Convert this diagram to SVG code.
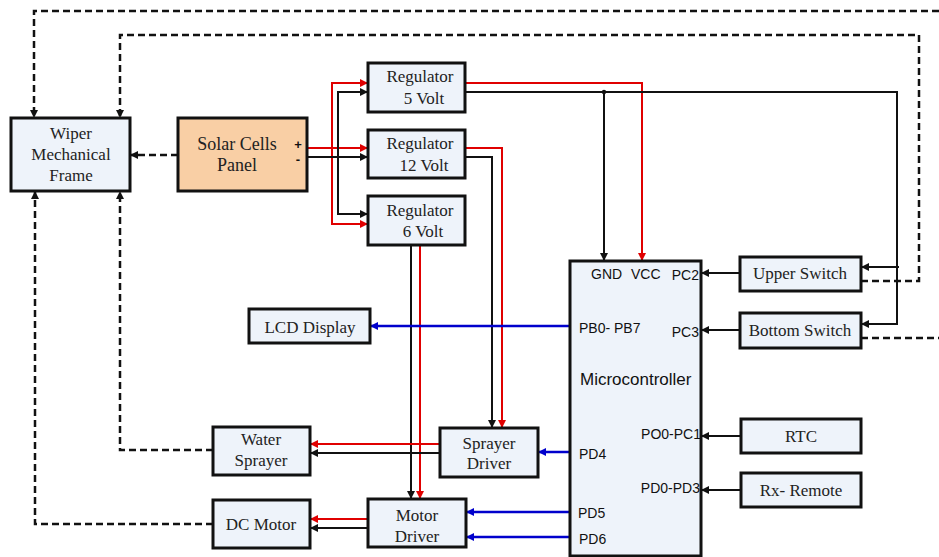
<svg xmlns="http://www.w3.org/2000/svg" width="939" height="557" viewBox="0 0 939 557">
<style>
.box{fill:#eef3fa;stroke:#111;stroke-width:3}
.solar{fill:#f9cfa5;stroke:#111;stroke-width:3}
.t{font-family:"Liberation Serif","Times New Roman",serif;font-size:17px;fill:#222;text-anchor:middle}
.s{font-family:"Liberation Sans",Arial,sans-serif;font-size:14px;fill:#111}
.pm{font-family:"Liberation Sans",Arial,sans-serif;font-size:13px;font-weight:bold;fill:#111;text-anchor:middle}
.k{fill:none;stroke:#111;stroke-width:2}
.r{fill:none;stroke:#e00000;stroke-width:2}
.b{fill:none;stroke:#0000cc;stroke-width:2.5}
.d{fill:none;stroke:#111;stroke-width:2.5;stroke-dasharray:7 4}
</style>
<defs>
<marker id="ak" viewBox="0 0 10 10" refX="10" refY="5" markerWidth="9" markerHeight="8" markerUnits="userSpaceOnUse" orient="auto"><path d="M0,0 L10,5 L0,10 z" fill="#111"/></marker>
<marker id="ar" viewBox="0 0 10 10" refX="10" refY="5" markerWidth="9" markerHeight="8" markerUnits="userSpaceOnUse" orient="auto"><path d="M0,0 L10,5 L0,10 z" fill="#e00000"/></marker>
<marker id="ab" viewBox="0 0 10 10" refX="10" refY="5" markerWidth="9" markerHeight="8" markerUnits="userSpaceOnUse" orient="auto"><path d="M0,0 L10,5 L0,10 z" fill="#0000cc"/></marker>
</defs>

<g id="connectors">
<path class="d" d="M939,11 H34 V118" marker-end="url(#ak)"/>
<path class="d" d="M861,281 H919 V35 H120 V118" marker-end="url(#ak)"/>
<path class="d" d="M861,338 H939"/>
<path class="d" d="M178,155 H130" marker-end="url(#ak)"/>
<path class="d" d="M213,524 H35 V191" marker-end="url(#ak)"/>
<path class="d" d="M213,450 H120 V191" marker-end="url(#ak)"/>
<path class="r" d="M307,148 H368" marker-end="url(#ar)"/>
<path class="r" d="M332,148 V83 H368" marker-end="url(#ar)"/>
<path class="r" d="M332,148 V224 H368" marker-end="url(#ar)"/>
<path class="k" d="M307,157 H368" marker-end="url(#ak)"/>
<path class="k" d="M338,157 V92 H368" marker-end="url(#ak)"/>
<path class="k" d="M338,157 V214 H368" marker-end="url(#ak)"/>
<path class="r" d="M465,83 H642 V261" marker-end="url(#ar)"/>
<path class="k" d="M465,92 H897 V324 H861" marker-end="url(#ak)"/>
<path class="k" d="M899,267 H861" marker-end="url(#ak)"/>
<path class="k" d="M604,92 V261" marker-end="url(#ak)"/>
<circle cx="604" cy="92" r="2.2" fill="#111"/>
<path class="r" d="M465,148 H502 V428" marker-end="url(#ar)"/>
<path class="k" d="M465,157 H492 V428" marker-end="url(#ak)"/>
<path class="k" d="M411,245 V499" marker-end="url(#ak)"/>
<path class="r" d="M420,245 V499" marker-end="url(#ar)"/>
<path class="r" d="M440,444 H310" marker-end="url(#ar)"/>
<path class="k" d="M440,453 H310" marker-end="url(#ak)"/>
<path class="r" d="M368,519 H310" marker-end="url(#ar)"/>
<path class="k" d="M368,528 H310" marker-end="url(#ak)"/>
<path class="k" d="M740,273 H701" marker-end="url(#ak)"/>
<path class="k" d="M740,330 H701" marker-end="url(#ak)"/>
<path class="k" d="M741,436 H701" marker-end="url(#ak)"/>
<path class="k" d="M741,490 H701" marker-end="url(#ak)"/>
<path class="b" d="M570,326 H370" marker-end="url(#ab)"/>
<path class="b" d="M570,452 H538" marker-end="url(#ab)"/>
<path class="b" d="M570,512 H466" marker-end="url(#ab)"/>
<path class="b" d="M570,537 H466" marker-end="url(#ab)"/>
</g>

<g id="wiper">
<rect class="box" x="11" y="118" width="119" height="73"/>
<text class="t" x="71" y="139">Wiper</text>
<text class="t" x="71" y="160">Mechanical</text>
<text class="t" x="71" y="181">Frame</text>
</g>
<g id="solar">
<rect class="solar" x="178" y="118" width="129" height="73"/>
<text class="t" x="237" y="150" style="font-size:18px">Solar Cells</text>
<text class="t" x="237" y="171" style="font-size:18px">Panel</text>
<text class="pm" x="298" y="149">+</text>
<text class="pm" x="298" y="164">-</text>
</g>
<g id="reg5">
<rect class="box" x="368" y="63" width="97" height="49"/>
<text class="t" x="420" y="82">Regulator</text>
<text class="t" x="424" y="104">5 Volt</text>
</g>
<g id="reg12">
<rect class="box" x="368" y="130" width="97" height="48"/>
<text class="t" x="420" y="149">Regulator</text>
<text class="t" x="424" y="171">12 Volt</text>
</g>
<g id="reg6">
<rect class="box" x="368" y="196" width="97" height="49"/>
<text class="t" x="420" y="216">Regulator</text>
<text class="t" x="423" y="237">6 Volt</text>
</g>
<g id="lcd">
<rect class="box" x="249" y="309" width="121" height="34"/>
<text class="t" x="310" y="333">LCD Display</text>
</g>
<g id="water">
<rect class="box" x="213" y="427" width="97" height="48"/>
<text class="t" x="261" y="445">Water</text>
<text class="t" x="261" y="466">Sprayer</text>
</g>
<g id="dcmotor">
<rect class="box" x="213" y="500" width="97" height="48"/>
<text class="t" x="261" y="530">DC Motor</text>
</g>
<g id="sprayerdriver">
<rect class="box" x="440" y="428" width="98" height="49"/>
<text class="t" x="489" y="449">Sprayer</text>
<text class="t" x="489" y="469">Driver</text>
</g>
<g id="motordriver">
<rect class="box" x="368" y="499" width="98" height="48"/>
<text class="t" x="417" y="521">Motor</text>
<text class="t" x="417" y="542">Driver</text>
</g>
<g id="mcu">
<rect class="box" x="570" y="261" width="131" height="295"/>
<text class="s" x="591" y="279">GND</text>
<text class="s" x="631" y="279">VCC</text>
<text class="s" x="699" y="280" text-anchor="end">PC2</text>
<text class="s" x="579" y="333">PB0- PB7</text>
<text class="s" x="699" y="337" text-anchor="end">PC3</text>
<text class="s" x="580" y="385" style="font-size:17px">Microcontroller</text>
<text class="s" x="701" y="439" text-anchor="end">PO0-PC1</text>
<text class="s" x="579" y="459">PD4</text>
<text class="s" x="700" y="493" text-anchor="end">PD0-PD3</text>
<text class="s" x="578" y="518">PD5</text>
<text class="s" x="579" y="544">PD6</text>
</g>
<g id="upperswitch">
<rect class="box" x="740" y="257" width="121" height="34"/>
<text class="t" x="800" y="279">Upper Switch</text>
</g>
<g id="bottomswitch">
<rect class="box" x="740" y="313" width="121" height="35"/>
<text class="t" x="800" y="336">Bottom Switch</text>
</g>
<g id="rtc">
<rect class="box" x="741" y="419" width="120" height="34"/>
<text class="t" x="801" y="442">RTC</text>
</g>
<g id="rxremote">
<rect class="box" x="741" y="473" width="120" height="34"/>
<text class="t" x="801" y="496">Rx- Remote</text>
</g>
</svg>
